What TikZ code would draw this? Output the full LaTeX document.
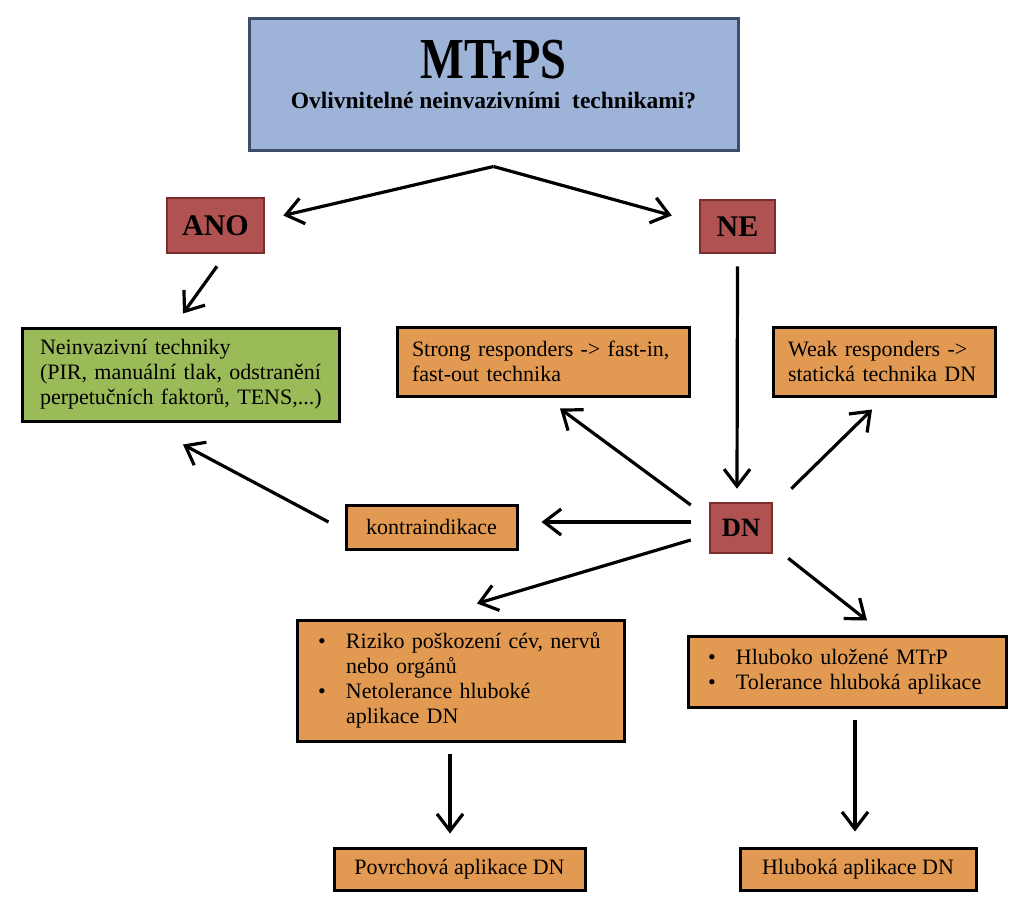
\documentclass[tikz,border=0pt]{standalone}
\usepackage{fontspec}
\setmainfont{Liberation Serif}
\usetikzlibrary{arrows.meta,calc}
\definecolor{topfill}{HTML}{9DB3D8}
\definecolor{topdraw}{HTML}{3D4D6B}
\definecolor{redfill}{HTML}{B05252}
\definecolor{reddraw}{HTML}{7A2E2E}
\definecolor{greenfill}{HTML}{9BBB59}
\definecolor{orangefill}{HTML}{E29A52}
\tikzset{
  box/.style={draw=black, line width=3pt, inner xsep=15pt, inner ysep=0pt, font=\fontsize{22}{25}\selectfont},
  obox/.style={box, fill=orangefill},
  rbox/.style={draw=reddraw, fill=redfill, line width=2.5pt, inner sep=0pt, font=\fontsize{30}{32}\selectfont\bfseries},
  arr/.style={line width=3.2pt, -{Straight Barb[length=17pt,width=26pt,line width=3.2pt]}},
}
\newcommand{\bul}{\makebox[28pt][l]{\textbullet}}
\newcommand{\ind}{\hspace*{28pt}}
\begin{document}
\begin{tikzpicture}[x=1pt,y=-1pt]
\useasboundingbox (0,0) rectangle (1024,910);
\node[draw=topdraw, fill=topfill, line width=3pt, minimum width=489pt, minimum height=132pt, inner sep=0pt, font=\fontsize{23.5}{24}\selectfont\bfseries] (top) at (493.5,84)
  {\raisebox{6pt}[\height][\depth]{\begin{tabular}{@{}c@{}}\scalebox{0.8}[1]{\fontsize{58}{60}\selectfont\bfseries MTrPS}\\[6pt]
   Ovlivnitelné neinvazivními\ \ technikami?\end{tabular}}};
\node[rbox, minimum width=97pt, minimum height=55pt] (ano) at (215.5,225.5) {ANO};
\node[rbox, minimum width=75pt, minimum height=53pt] (ne) at (737.5,226.5) {NE};
\node[rbox, minimum width=62pt, minimum height=50pt, font=\fontsize{26.5}{28}\selectfont\bfseries] (dn) at (741,528) {DN};
\node[box, fill=greenfill, minimum height=93pt, text width=281pt, inner xsep=18pt, align=left] (green) at (180.5,374.5)
  {\mbox{Neinvazivní techniky}\\\mbox{(PIR, manuální tlak, odstranění}\\\mbox{perpetučních faktorů, TENS,...)}};
\node[obox, minimum height=69pt, text width=262pt, align=left] (strong) at (543,361.5)
  {\mbox{Strong responders -> fast-in,}\\\mbox{fast-out technika}};
\node[obox, minimum height=69pt, text width=192pt, align=left] (weak) at (884,361.5)
  {\mbox{Weak responders ->}\\\mbox{statická technika DN}};
\node[obox, minimum width=171pt, minimum height=44pt, inner xsep=0pt] (kontra) at (431.5,527) {kontraindikace};
\node[obox, minimum height=121pt, text width=285pt, inner xsep=21pt, align=left] (riziko) at (460.5,680.5)
  {\mbox{\bul Riziko poškození cév, nervů}\\\mbox{\ind nebo orgánů}\\\mbox{\bul Netolerance hluboké}\\\mbox{\ind aplikace DN}};
\node[obox, minimum height=71pt, text width=278pt, inner xsep=20pt, align=left] (hluboko) at (847,671.5)
  {\mbox{\bul Hluboko uložené MTrP}\\\mbox{\bul Tolerance hluboká aplikace}};
\node[obox, minimum width=251pt, minimum height=42pt, inner xsep=0pt] (povrch) at (459.5,869) {Povrchová aplikace DN};
\node[obox, minimum width=236pt, minimum height=42pt, inner xsep=0pt] (hluboka) at (858,869) {Hluboká aplikace DN};
% connectors
\coordinate (peak) at ($(top.south)+(0,15)$);
\draw[arr] (peak) -- ($(ano.east)+(18,-10)$);
\draw[arr] (peak) -- ($(ne.west)+(-27,-11)$);
\draw[arr] ($(ano.south)+(1.5,12)$) -- ($(green.north)+(2.5,-13)$);
\draw[arr] ($(ne.south)+(0,12)$) -- ($(dn.north)+(-4,-13)$);
\draw[arr] ($(dn.west)+(-18,-23)$) -- ($(strong.south)+(17,11)$);
\draw[arr] ($(dn.north east)+(18,-13)$) -- ($(weak.south)+(-12,12)$);
\draw[arr] ($(dn.west)+(-18,-6)$) -- ($(kontra.east)+(23,-5)$);
\draw[arr] ($(kontra.west)+(-16,-5)$) -- ($(green.south)+(2.5,22)$);
\draw[arr] ($(dn.west)+(-18,12)$) -- ($(riziko.north)+(16.5,-15)$);
\draw[arr] ($(dn.south east)+(15,4)$) -- ($(hluboko.north)+(20,-14)$);
\draw[arr] ($(riziko.south)+(-10.5,11)$) -- ($(povrch.north)+(-9.5,-13)$);
\draw[arr] ($(hluboko.south)+(8,11)$) -- ($(hluboka.north)+(-3,-15)$);
\end{tikzpicture}
\end{document}
